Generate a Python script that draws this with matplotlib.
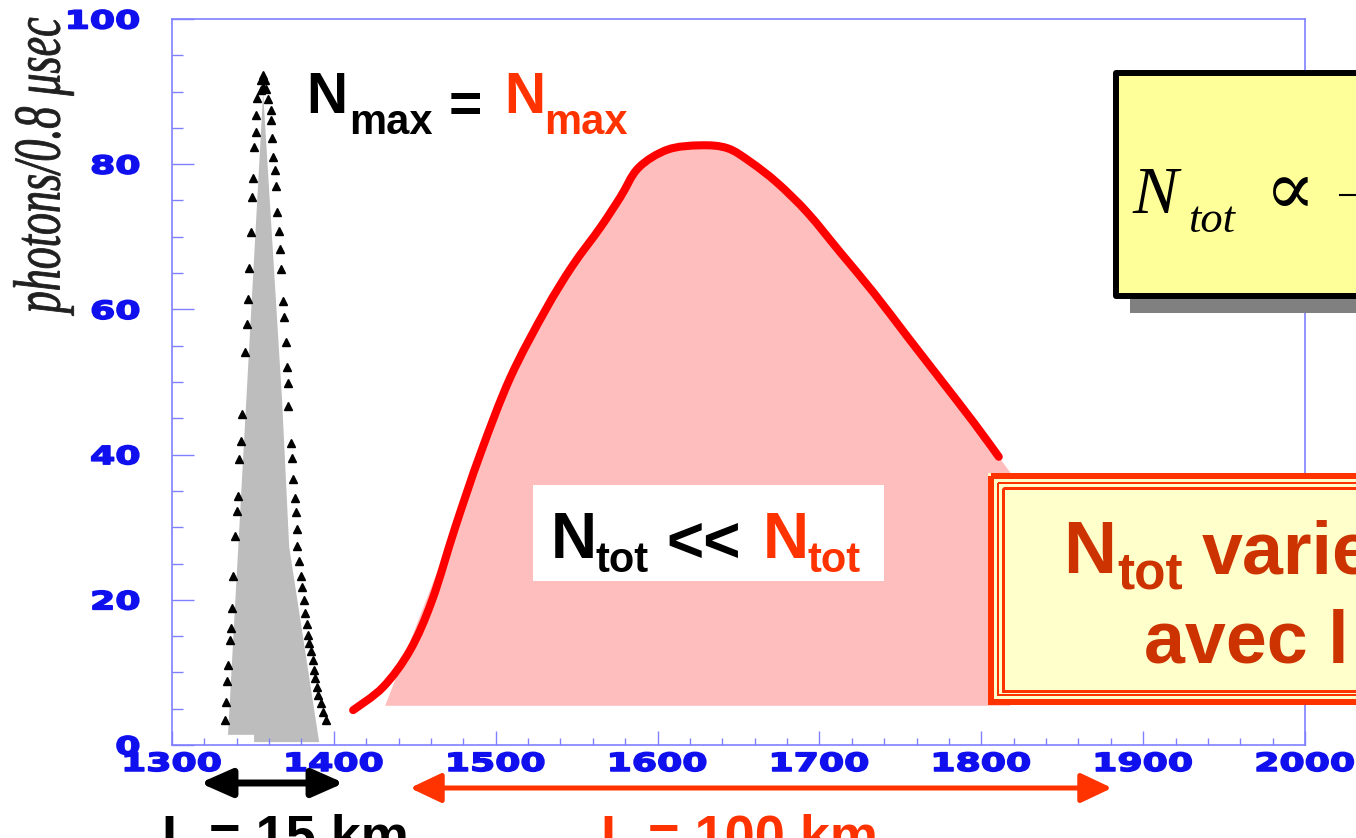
import matplotlib
matplotlib.use("Agg")
import numpy as np
import matplotlib.pyplot as plt
from matplotlib.patches import Rectangle, Polygon, PathPatch, FancyArrowPatch, ArrowStyle
from matplotlib.patheffects import AbstractPathEffect
from matplotlib.transforms import Affine2D
from matplotlib.ticker import MultipleLocator
from matplotlib.path import Path

W, H = 1356, 838

# ── data ─────────────────────────────────────────────────────────────────────
# short shower: measured points (black triangles), two flanks + peak cluster
tri_left_x = [1352.6, 1351.9, 1351.9, 1350.7, 1350.1, 1349.5, 1348.9, 1347.6,
              1347.0, 1346.4, 1345.1, 1343.3, 1342.7, 1341.4, 1340.8, 1340.2,
              1339.0, 1337.7, 1337.1, 1336.5, 1335.9, 1334.6, 1334.0, 1333.4,
              1332.8]
tri_left_y = [89.1, 86.8, 84.4, 82.4, 78.1, 75.5, 70.7, 65.7, 61.4, 58.0, 54.1,
              45.6, 41.9, 39.4, 34.3, 32.2, 28.8, 23.3, 18.9, 16.1, 14.5, 11.0,
              8.8, 5.9, 3.4]
tri_right_x = [1359.4, 1361.2, 1361.2, 1361.8, 1362.5, 1363.7, 1364.3, 1364.9,
               1366.2, 1366.8, 1367.4, 1368.6, 1369.3, 1370.5, 1371.1, 1371.7,
               1371.7, 1373.6, 1374.2, 1374.8, 1376.1, 1376.7, 1377.3, 1377.3,
               1378.5, 1379.8, 1380.4, 1381.6, 1382.2, 1383.5, 1384.1, 1384.7,
               1386.0, 1387.2, 1387.8, 1388.4, 1389.7, 1390.3, 1392.1, 1393.4,
               1395.2]
tri_right_y = [89.0, 87.5, 86.1, 83.6, 81.0, 79.2, 77.0, 73.4, 70.8, 68.3, 65.6,
               61.2, 59.0, 55.5, 52.1, 49.9, 46.7, 41.6, 39.5, 36.6, 34.0, 32.1,
               29.8, 27.4, 25.3, 23.3, 21.8, 20.0, 18.2, 16.7, 15.2, 14.0, 12.9,
               11.7, 10.3, 9.2, 8.0, 6.9, 5.8, 4.5, 3.4]
tri_peak_x = [1355.2, 1356.3, 1357.4, 1356.3, 1354.8, 1358.0]
tri_peak_y = [91.6, 92.3, 91.6, 90.7, 90.2, 90.3]

# grey area under the short shower
gray_x = [1356.3, 1368.0, 1372.4, 1390.9, 1350.7, 1350.7, 1334.6]
gray_y = [89.9, 47.5, 27.3, 0.4, 0.4, 1.4, 1.4]

# long shower (red curve)
red_x = [1411.9, 1430.5, 1447.2, 1460.8, 1475.0, 1490.5, 1509.0, 1530.7,
         1547.4, 1564.7, 1577.1, 1588.2, 1606.1, 1626.5, 1643.2, 1657.5,
         1674.1, 1692.7, 1713.1, 1733.5, 1754.5, 1775.0, 1795.4, 1810.8]
red_y = [4.8, 8.0, 13.1, 20.0, 30.0, 40.1, 50.6, 59.9, 66.0, 71.3, 75.5, 79.5,
         82.0, 82.6, 82.2, 80.3, 77.4, 73.3, 67.8, 62.3, 56.2, 50.3, 44.4, 39.7]

# pink area under the long shower
pink_left_x = [1431.7, 1471.9]
pink_left_y = [5.4, 28.5]
pink_end_x, pink_end_y, pink_base = 1818.0, 37.5, 5.4

x_ticks = [1300, 1400, 1500, 1600, 1700, 1800, 1900, 2000]
y_ticks = [0, 20, 40, 60, 80, 100]

AX_C = "#8080ff"
TICK_C = "#1010ee"
ORANGE = "#ff3300"


class Stretch(AbstractPathEffect):
    """Stretch text glyphs along the writing direction (wide slide fonts)."""

    def __init__(self, sx, anchor="center", stroke=0.0):
        super().__init__()
        self.sx = sx
        self.anchor = anchor
        self.stroke = stroke

    def draw_path(self, renderer, gc, tpath, affine, rgbFace=None):
        ext = tpath.get_extents()
        cx = {"center": (ext.x0 + ext.x1) / 2, "right": ext.x1,
              "left": ext.x0}[self.anchor]
        st = Affine2D().translate(-cx, 0).scale(self.sx, 1).translate(cx, 0)
        gc0 = renderer.new_gc()
        gc0.copy_properties(gc)
        if self.stroke > 0 and rgbFace is not None:
            gc0.set_linewidth(self.stroke)
            gc0.set_foreground(rgbFace)
        renderer.draw_path(gc0, tpath, st + affine, rgbFace)
        gc0.restore()


def smooth_segments(xs, ys):
    """Cubic Bezier pieces through the read points (Catmull-Rom tangents)."""
    p = np.column_stack([xs, ys])
    verts, codes = [], []
    for i in range(len(p) - 1):
        p0 = p[max(i - 1, 0)]
        p1, p2 = p[i], p[i + 1]
        p3 = p[min(i + 2, len(p) - 1)]
        verts += [p1 + (p2 - p0) / 6, p2 - (p3 - p1) / 6, p2]
        codes += [Path.CURVE4] * 3
    return verts, codes


fig = plt.figure(figsize=(W / 100, H / 100), dpi=100)
fig.patch.set_facecolor("white")

# ── main axes ────────────────────────────────────────────────────────────────
ax = fig.add_axes([172 / W, (H - 745) / H, (1305 - 172) / W, (745 - 19) / H])
ax.set_xlim(1300, 2000)
ax.set_ylim(0, 100)

# pink fill: straight left flank, then the smooth curve, then down to the base
top_x = [x for x in red_x if x >= 1490]
top_y = [y for x, y in zip(red_x, red_y) if x >= 1490]
cv, cc = smooth_segments(top_x, top_y)
pv = [(pink_left_x[0], pink_left_y[0]), (pink_left_x[1], pink_left_y[1]),
      (top_x[0], top_y[0])] + cv + [(pink_end_x, pink_end_y), (pink_end_x, pink_base),
                                    (pink_left_x[0], pink_left_y[0])]
pc = [Path.MOVETO, Path.LINETO, Path.LINETO] + cc + [Path.LINETO, Path.LINETO, Path.CLOSEPOLY]
ax.add_patch(PathPatch(Path(pv, pc), facecolor="#ffbebe", edgecolor="none", zorder=1))
ax.add_patch(Polygon(list(zip(gray_x, gray_y)), closed=True,
                     facecolor="#bdbdbd", edgecolor="none", zorder=1))

rv, rc = smooth_segments(red_x, red_y)
red_path = Path([(red_x[0], red_y[0])] + rv, [Path.MOVETO] + rc)
ax.add_patch(PathPatch(red_path, fill=False, edgecolor="#ff0000", lw=5.8,
                       capstyle="round", joinstyle="round", zorder=3))
ax.plot(tri_left_x + tri_right_x + tri_peak_x, tri_left_y + tri_right_y + tri_peak_y,
        ls="none", marker="^", ms=6, color="black", zorder=3)

for s in ax.spines.values():
    s.set_color(AX_C)
    s.set_linewidth(1.2)

ax.set_xticks(x_ticks)
ax.set_yticks(y_ticks)
ax.xaxis.set_minor_locator(MultipleLocator(20))
ax.yaxis.set_minor_locator(MultipleLocator(5))
ax.tick_params(which="both", direction="in", color=AX_C, width=1,
               top=False, right=False)
ax.tick_params(axis="x", which="major", length=10, pad=5)
ax.tick_params(axis="x", which="minor", length=5)
ax.tick_params(axis="y", which="major", length=16, pad=23)
ax.tick_params(axis="y", which="minor", length=8)
ax.set_xticklabels([str(v) for v in x_ticks], fontsize=18, fontweight="bold",
                   color=TICK_C, path_effects=[Stretch(1.45, "center", 1.2)])
ax.set_yticklabels([str(v) for v in y_ticks], fontsize=18, fontweight="bold",
                   color=TICK_C, path_effects=[Stretch(1.45, "right", 1.2)])

# ── overlay in pixel units for the slide annotations ─────────────────────────
ov = fig.add_axes([0, 0, 1, 1], facecolor="none")
ov.set_xlim(0, W)
ov.set_ylim(H, 0)
ov.axis("off")

ov.text(43, 17, "photons/0.8 \u03bcsec", rotation=90, ha="center", va="top",
        family="Liberation Serif", style="italic", fontsize=48, color="#202020",
        path_effects=[Stretch(0.66, "right", 0.6)])


def put(x, y, s, size, color="black", **kw):
    ov.text(x, y, s, fontsize=size, color=color, fontweight="bold",
            family="Liberation Sans", ha="left", va="baseline", **kw)


# N_max = N_max
put(306, 113, "N", 41)
put(349, 134, "max", 30)
ov.text(465, 123, "=", fontsize=41, fontweight="bold", family="Liberation Sans",
        ha="center", va="baseline", color="black")
put(504, 113, "N", 41, ORANGE)
put(544, 134, "max", 30, ORANGE)

# N_tot << N_tot on a white card
ov.add_patch(Rectangle((533, 485), 351, 96, facecolor="white", edgecolor="none"))
put(551, 558, "N", 46)
put(596, 572, "tot", 30)
put(666, 562, "<<", 46)
put(763, 558, "N", 46, ORANGE)
put(807, 572, "tot", 30, ORANGE)

# yellow formula box with drop shadow
ov.add_patch(Rectangle((1130, 85), 400, 228, facecolor="#808080", edgecolor="none"))
ov.add_patch(Rectangle((1116, 73), 400, 223, facecolor="#ffff99", edgecolor="black",
                       lw=4.3, joinstyle="round"))
ov.text(1133, 213, "N", fontsize=49, style="italic", family="Liberation Serif",
        ha="left", va="baseline", color="black")
ov.text(1188, 232, "tot", fontsize=32, style="italic", family="Liberation Serif",
        ha="left", va="baseline", color="black")
ov.text(1290, 214, "\u221d", fontsize=54, family=["Liberation Serif", "DejaVu Serif"],
        ha="center", va="baseline", color="black")
ov.plot([1340, 1360], [195, 195], color="black", lw=1.5)

# orange triple-framed box
ov.add_patch(Rectangle((988, 473), 420, 232, facecolor="#ffffcc", edgecolor="none"))
for inset, lw in [(3, 6), (10, 2), (14.5, 3)]:
    ov.add_patch(Rectangle((988 + inset, 473 + inset), 500, 232 - 2 * inset,
                           fill=False, edgecolor=ORANGE, lw=lw * 0.72))
BOX_C = "#cc3300"
put(1063, 573, "N", 53, BOX_C)
put(1117, 588, "tot", 37, BOX_C)
put(1202, 573, "varie", 53, BOX_C)
put(1144, 662, "avec l", 53, BOX_C)

# length arrows under the axis
ov.add_patch(FancyArrowPatch((200, 783), (344, 783),
                             arrowstyle=ArrowStyle("<|-|>", head_length=0.95, head_width=0.42),
                             mutation_scale=20, lw=5, color="black",
                             shrinkA=0, shrinkB=0))
ov.add_patch(FancyArrowPatch((410, 788), (1112, 788),
                             arrowstyle=ArrowStyle("<|-|>", head_length=0.95, head_width=0.45),
                             mutation_scale=20, lw=3.6, color=ORANGE,
                             shrinkA=0, shrinkB=0))
put(162, 852, "L = 15 km", 39)
put(601, 852, "L = 100 km", 39, ORANGE)

fig.savefig("out.png", dpi=100)
